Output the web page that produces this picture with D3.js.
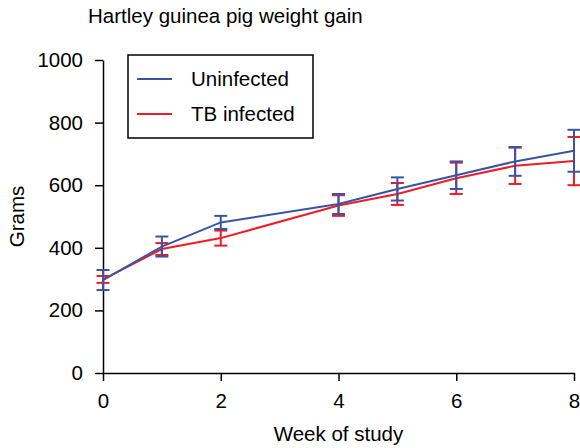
<!DOCTYPE html>
<html>
<head>
<meta charset="utf-8">
<script src="https://cdn.jsdelivr.net/npm/d3@7"></script>
<style>
  body { margin: 0; background: #fff; }
  text { font-family: "Liberation Sans", Arial, sans-serif; }
</style>
</head>
<body>
<svg width="580" height="448"></svg>
<script>
// data
var weeks = [0, 1, 2, 4, 5, 6, 7, 8];
var uninfected = [297, 404, 481, 540, 588, 632, 676, 710];
var uninfectedErr = [32, 32, 21, 32, 37, 44, 46, 67];
var infected = [299, 396, 431, 535, 572, 622, 662, 677];
var infectedErr = [11, 19, 24, 33, 35, 50, 58, 77];
var xTicks = [0, 2, 4, 6, 8];
var yTicks = [0, 200, 400, 600, 800, 1000];

var fontSize = "20.5px";

var margin = { top: 60, right: 6, bottom: 75, left: 103 },
    width = 580 - margin.left - margin.right,
    height = 448 - margin.top - margin.bottom;

var svg = d3.select("svg")
    .append("g")
    .attr("transform", "translate(" + margin.left + "," + margin.top + ")");

var x = d3.scaleLinear().domain([0, 8]).range([0, width]);
var y = d3.scaleLinear().domain([0, 1000]).range([height, 0]);

// axes
var xAxis = svg.append("g")
    .attr("transform", "translate(0," + height + ")")
    .call(d3.axisBottom(x).tickValues(xTicks).tickFormat(d3.format("d"))
        .tickSize(8).tickPadding(12).tickSizeOuter(0));
var yAxis = svg.append("g")
    .call(d3.axisLeft(y).tickValues(yTicks).tickFormat(d3.format("d"))
        .tickSize(8).tickPadding(12).tickSizeOuter(0));

[xAxis, yAxis].forEach(function(a) {
    a.selectAll("path, line").attr("stroke", "#000").attr("stroke-width", 1.5);
    a.selectAll("text").style("font-size", fontSize).attr("fill", "#000")
        .style("font-family", "'Liberation Sans', Arial, sans-serif");
});

// series: red first, blue on top
var series = [
    { name: "TB infected", color: "#ee1c25", vals: infected, err: infectedErr },
    { name: "Uninfected", color: "#3a54a4", vals: uninfected, err: uninfectedErr }
];

var line = d3.line()
    .x(function(d) { return x(d[0]); })
    .y(function(d) { return y(d[1]); });

series.forEach(function(s) {
    var pts = weeks.map(function(w, i) { return [w, s.vals[i], s.err[i]]; });

    svg.append("path")
        .datum(pts)
        .attr("fill", "none")
        .attr("stroke", s.color)
        .attr("stroke-width", 2)
        .attr("d", line);

    var eb = svg.append("g").attr("stroke", s.color).attr("stroke-width", 2);
    pts.forEach(function(p) {
        var cx = x(p[0]), top = y(p[1] + p[2]), bot = y(p[1] - p[2]);
        eb.append("line").attr("x1", cx).attr("x2", cx).attr("y1", top).attr("y2", bot);
        eb.append("line").attr("x1", cx - 6.5).attr("x2", cx + 6.5).attr("y1", top).attr("y2", top);
        eb.append("line").attr("x1", cx - 6.5).attr("x2", cx + 6.5).attr("y1", bot).attr("y2", bot);
    });
});

// legend
var legend = svg.append("g").attr("transform", "translate(25,-5)");
legend.append("rect")
    .attr("width", 185).attr("height", 83)
    .attr("fill", "#fff").attr("stroke", "#000").attr("stroke-width", 1.5);
[series[1], series[0]].forEach(function(s, i) {
    var ly = 24 + i * 35;
    legend.append("line")
        .attr("x1", 9).attr("x2", 44).attr("y1", ly).attr("y2", ly)
        .attr("stroke", s.color).attr("stroke-width", 2);
    legend.append("text")
        .attr("x", 63).attr("y", ly + 7)
        .style("font-size", fontSize)
        .text(s.name);
});

// titles
svg.append("text")
    .attr("x", -15).attr("y", -37)
    .style("font-size", fontSize)
    .text("Hartley guinea pig weight gain");

svg.append("text")
    .attr("x", width / 2).attr("y", height + 68)
    .attr("text-anchor", "middle")
    .style("font-size", fontSize)
    .text("Week of study");

svg.append("text")
    .attr("transform", "rotate(-90)")
    .attr("x", -height / 2).attr("y", -79)
    .attr("text-anchor", "middle")
    .style("font-size", fontSize)
    .text("Grams");
</script>
</body>
</html>
